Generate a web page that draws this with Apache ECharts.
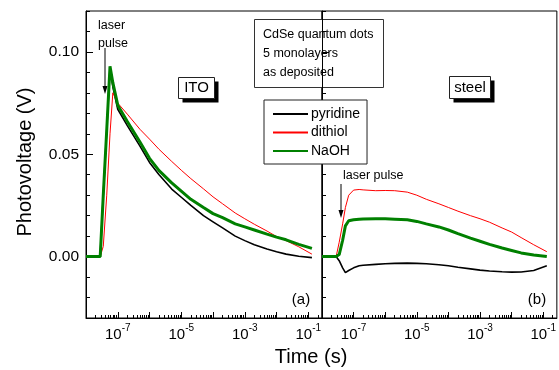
<!DOCTYPE html>
<html><head><meta charset="utf-8">
<script src="https://cdn.jsdelivr.net/npm/echarts@6/dist/echarts.min.js"></script>
<style>html,body{margin:0;padding:0;background:#fff}#c{width:559px;height:370px}</style>
</head><body><div id="c"></div>
<script>
// ---------- data ----------
const seriesNames = ['pyridine', 'dithiol', 'NaOH'];
const xLabelValues = [1e-7, 1e-5, 1e-3, 1e-1];
const yLabelValues = [0, 0.05, 0.10];

// ITO panel (a)
const itoTime      = [1e-8, 2.8e-8, 3.5e-8, 4.5e-8, 5.7e-8, 7e-8, 1e-7, 2e-7, 5e-7, 1e-6, 2e-6, 5e-6, 1e-5, 2e-5, 5e-5, 1e-4, 2e-4, 5e-4, 1e-3, 2e-3, 5e-3, 1e-2, 2e-2, 5e-2, 1.3e-1];
const itoPyridine  = [0, 0, 0.030, 0.062, 0.092, 0.083, 0.072, 0.064, 0.054, 0.046, 0.040, 0.033, 0.029, 0.025, 0.020, 0.017, 0.014, 0.010, 0.0078, 0.0058, 0.0037, 0.0024, 0.0012, 0.0002, -0.0005];
const itoDithiol   = [0, 0, 0.005, 0.030, 0.060, 0.080, 0.075, 0.0696, 0.0622, 0.0574, 0.0524, 0.0465, 0.0422, 0.0381, 0.0331, 0.0292, 0.0258, 0.0213, 0.0185, 0.0158, 0.0125, 0.0098, 0.0078, 0.0048, 0.0012];
const itoNaOH      = [0, 0, 0.030, 0.062, 0.093, 0.085, 0.074, 0.066, 0.056, 0.048, 0.042, 0.036, 0.032, 0.028, 0.024, 0.021, 0.019, 0.016, 0.0145, 0.013, 0.011, 0.0095, 0.0082, 0.006, 0.004];

// steel panel (b)
const steelTime     = [1e-8, 2.8e-8, 3.5e-8, 4.5e-8, 5.5e-8, 7e-8, 1e-7, 1.5e-7, 2e-7, 5e-7, 1e-6, 2e-6, 5e-6, 1e-5, 2e-5, 5e-5, 1e-4, 2e-4, 5e-4, 1e-3, 2e-3, 5e-3, 1e-2, 2e-2, 5e-2, 1.3e-1];
const steelPyridine = [0, 0, -0.002, -0.0055, -0.0078, -0.0068, -0.0055, -0.0045, -0.0042, -0.0038, -0.0035, -0.0033, -0.0032, -0.0033, -0.0035, -0.004, -0.0045, -0.0052, -0.006, -0.0066, -0.007, -0.0074, -0.0076, -0.0075, -0.0068, -0.0045];
const steelDithiol  = [0, 0, 0.007, 0.016, 0.024, 0.030, 0.0325, 0.0328, 0.0326, 0.0322, 0.0323, 0.0322, 0.0315, 0.030, 0.028, 0.0258, 0.024, 0.0222, 0.020, 0.0185, 0.0168, 0.014, 0.012, 0.0093, 0.0058, 0.0024];
const steelNaOH     = [0, 0, 0.001, 0.008, 0.015, 0.0175, 0.018, 0.0183, 0.0184, 0.0185, 0.0185, 0.0183, 0.018, 0.0172, 0.016, 0.0145, 0.013, 0.0112, 0.009, 0.0075, 0.006, 0.0042, 0.003, 0.0018, 0.0008, 0.0];

// ---------- helpers ----------
const FONT = '"Liberation Sans", Arial, Helvetica, sans-serif';
const X_MIN = 1e-8, X_MAX = 0.27;
const Y_MIN = -0.03, Y_MAX = 0.12;
const xMajorTicks = [], xMinorTicks = [];
for (let e = -8; e <= -1; e++) {
  xMajorTicks.push(Math.pow(10, e));
  for (let m = 2; m <= 9; m++) xMinorTicks.push(m * Math.pow(10, e));
}
const yMinorTicks = [];
for (let k = -3; k <= 12; k++) if (k % 5 !== 0) yMinorTicks.push(k / 100);

const pairs = (t, v) => t.map((x, i) => [x, v[i]]);
const colors = { pyridine: '#000000', dithiol: '#ff0000', NaOH: '#008000' };
const widths = { pyridine: 1.6, dithiol: 1, NaOH: 3 };

function xAxes(grid, labels) {
  return [
    { type: 'log', logBase: 10, gridIndex: grid, min: X_MIN, max: X_MAX, position: 'bottom',
      axisLine: { onZero: false, lineStyle: { color: '#000', width: 1 } },
      axisTick: { inside: true, length: 6, customValues: xMajorTicks, lineStyle: { color: '#000' } },
      axisLabel: { show: labels, customValues: xLabelValues, margin: 5,
        formatter: v => '{b|10}{s|' + Math.round(Math.log10(v)) + '}',
        rich: { b: { fontSize: 15, fontFamily: FONT, color: '#000', lineHeight: 19, verticalAlign: 'bottom' },
                s: { fontSize: 10, fontFamily: FONT, color: '#000', lineHeight: 10, verticalAlign: 'top' } } },
      splitLine: { show: false } },
    { type: 'log', logBase: 10, gridIndex: grid, min: X_MIN, max: X_MAX, position: 'bottom',
      axisLine: { show: false, onZero: false },
      axisTick: { inside: true, length: 3, customValues: xMinorTicks, lineStyle: { color: '#000' } },
      axisLabel: { show: false }, splitLine: { show: false } }
  ];
}
function yAxes(grid, labels) {
  return [
    { type: 'value', gridIndex: grid, min: Y_MIN, max: Y_MAX, position: 'left',
      axisLine: { show: true, onZero: false, lineStyle: { color: '#000', width: 1 } },
      axisTick: { show: true, inside: true, length: 7, customValues: yLabelValues, lineStyle: { color: '#000' } },
      axisLabel: { show: labels, customValues: yLabelValues, margin: 7, fontSize: 15.5, fontFamily: FONT, color: '#000',
        formatter: v => v.toFixed(2) },
      splitLine: { show: false } },
    { type: 'value', gridIndex: grid, min: Y_MIN, max: Y_MAX, position: 'left',
      axisLine: { show: false, onZero: false },
      axisTick: { show: true, inside: true, length: 4, customValues: yMinorTicks, lineStyle: { color: '#000' } },
      axisLabel: { show: false }, splitLine: { show: false } }
  ];
}
function line(name, data, xi, yi) {
  return { name, type: 'line', data, xAxisIndex: xi, yAxisIndex: yi, showSymbol: false, symbol: 'none',
    animation: false, lineStyle: { color: colors[name], width: widths[name] }, itemStyle: { color: colors[name] } };
}
function boxShadowLabel(text, x, y, w, h) {
  return [
    { type: 'rect', shape: { x: x + 4.5, y: y + 4.5, width: w, height: h }, style: { fill: '#000' } },
    { type: 'rect', shape: { x: x + 0.5, y: y + 0.5, width: w, height: h }, style: { fill: '#fff', stroke: '#222', lineWidth: 1 } },
    { type: 'text', style: { text, x: x + w / 2 + 0.5, y: y + h / 2 + 0.5, font: '15px ' + FONT, fill: '#000', textAlign: 'center', textVerticalAlign: 'middle' } }
  ];
}
function arrow(x, y1, y2) {
  return [
    { type: 'line', shape: { x1: x, y1: y1, x2: x, y2: y2 - 6 }, style: { stroke: '#000', lineWidth: 1 } },
    { type: 'polygon', shape: { points: [[x - 2.5, y2 - 8], [x + 2.5, y2 - 8], [x, y2]] }, style: { fill: '#000' } }
  ];
}

const chart = echarts.init(document.getElementById('c'));
chart.setOption({
  animation: false,
  backgroundColor: '#fff',
  grid: [
    { left: 86, top: 11, width: 236, height: 307, show: true, borderColor: '#000', borderWidth: 1 },
    { left: 322, top: 11, width: 235, height: 307, show: true, borderColor: '#000', borderWidth: 1 }
  ],
  xAxis: [...xAxes(0, true), ...xAxes(1, true)],
  yAxis: [...yAxes(0, true), ...yAxes(1, false)],
  legend: {
    data: seriesNames, left: 264, top: 100, orient: 'vertical',
    borderColor: '#222', borderWidth: 1, borderRadius: 0, backgroundColor: '#fff',
    padding: [7, 7, 6, 8], itemWidth: 35, itemHeight: 14, itemGap: 4.5,
    itemStyle: { opacity: 0 },
    textStyle: { fontSize: 14, fontFamily: FONT, color: '#000', padding: [0, 0, 0, -2] },
    selectedMode: false
  },
  series: [
    line('pyridine', pairs(itoTime, itoPyridine), 0, 0),
    line('dithiol', pairs(itoTime, itoDithiol), 0, 0),
    line('NaOH', pairs(itoTime, itoNaOH), 0, 0),
    line('pyridine', pairs(steelTime, steelPyridine), 2, 2),
    line('dithiol', pairs(steelTime, steelDithiol), 2, 2),
    line('NaOH', pairs(steelTime, steelNaOH), 2, 2)
  ],
  graphic: [
    { type: 'rect', shape: { x: 254.5, y: 19.5, width: 129, height: 68 }, style: { fill: '#fff', stroke: '#333', lineWidth: 1 } },
    { type: 'text', style: { text: 'CdSe quantum dots', x: 263, y: 35, font: '12.5px ' + FONT, fill: '#000', textVerticalAlign: 'middle' } },
    { type: 'text', style: { text: '5 monolayers', x: 263, y: 54, font: '12.5px ' + FONT, fill: '#000', textVerticalAlign: 'middle' } },
    { type: 'text', style: { text: 'as deposited', x: 263, y: 73, font: '12.5px ' + FONT, fill: '#000', textVerticalAlign: 'middle' } },
    { type: 'text', style: { text: 'laser', x: 98, y: 26, font: '12.5px ' + FONT, fill: '#000', textVerticalAlign: 'middle' } },
    { type: 'text', style: { text: 'pulse', x: 98, y: 44, font: '12.5px ' + FONT, fill: '#000', textVerticalAlign: 'middle' } },
    ...arrow(105, 48, 94),
    { type: 'text', style: { text: 'laser pulse', x: 343, y: 176, font: '12.5px ' + FONT, fill: '#000', textVerticalAlign: 'middle' } },
    ...arrow(341, 184, 218),
    ...boxShadowLabel('ITO', 178, 77, 36, 21),
    ...boxShadowLabel('steel', 449, 76, 41, 22),
    { type: 'text', style: { text: '(a)', x: 301, y: 300, font: '15px ' + FONT, fill: '#000', textAlign: 'center', textVerticalAlign: 'middle' } },
    { type: 'text', style: { text: '(b)', x: 537, y: 300, font: '15px ' + FONT, fill: '#000', textAlign: 'center', textVerticalAlign: 'middle' } },
    { type: 'text', style: { text: 'Time (s)', x: 311, y: 357, font: '20px ' + FONT, fill: '#000', textAlign: 'center', textVerticalAlign: 'middle' } },
    { type: 'text', x: 25, y: 162, rotation: Math.PI / 2, style: { text: 'Photovoltage (V)', x: 0, y: 0, font: '20px ' + FONT, fill: '#000', textAlign: 'center', textVerticalAlign: 'middle' } }
  ]
});
</script></body></html>
